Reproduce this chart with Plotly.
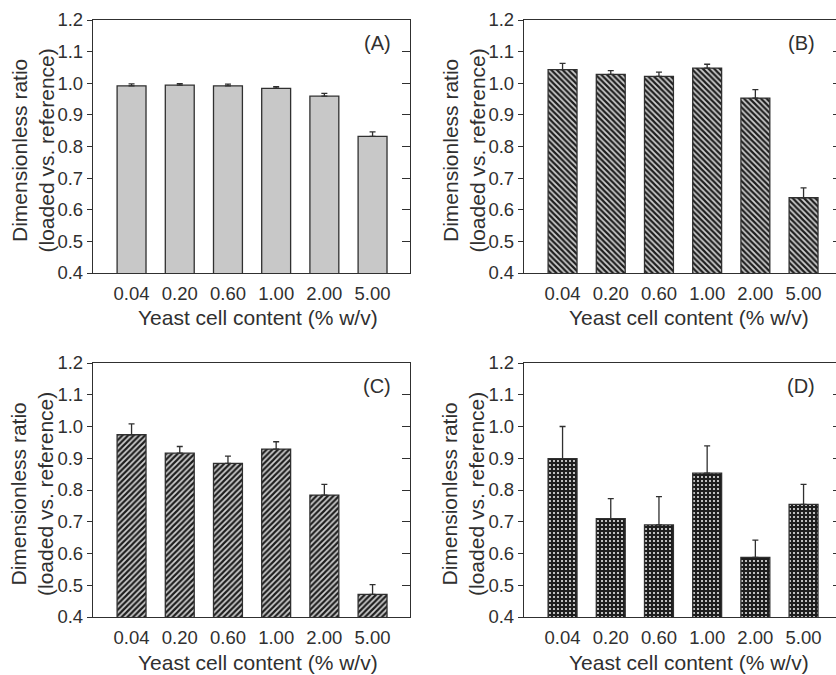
import plotly.graph_objects as go

# ---------------- data ----------------
categories = ["0.04", "0.20", "0.60", "1.00", "2.00", "5.00"]

ratio_A = [0.992, 0.994, 0.992, 0.984, 0.959, 0.832]
err_A = [0.006, 0.005, 0.005, 0.005, 0.009, 0.014]

ratio_B = [1.043, 1.028, 1.022, 1.048, 0.953, 0.638]
err_B = [0.020, 0.012, 0.013, 0.012, 0.027, 0.031]

ratio_C = [0.974, 0.916, 0.884, 0.929, 0.784, 0.471]
err_C = [0.034, 0.021, 0.023, 0.023, 0.034, 0.031]

ratio_D = [0.899, 0.710, 0.690, 0.853, 0.588, 0.755]
err_D = [0.101, 0.063, 0.089, 0.086, 0.054, 0.063]

panel_labels = ["(A)", "(B)", "(C)", "(D)"]
x_title = "Yeast cell content (% w/v)"
y_title = "Dimensionless ratio<br>(loaded vs. reference)"
y_ticks = [0.4, 0.5, 0.6, 0.7, 0.8, 0.9, 1.0, 1.1, 1.2]

# ---------------- layout helpers ----------------
W, H = 836, 675
FONT = "Liberation Sans, Arial, Helvetica, sans-serif"
INK = "#303030"
STEP = 48.2  # px per category


def px_x(v):
    return v / W


def px_y(v):
    return 1 - v / H


panels = [
    dict(x0=93, x1=410, y0=20, y1=273, ratio=ratio_A, err=err_A,
         pattern=None, right_line=True, rlen=8),
    dict(x0=524, x1=836, y0=20, y1=273, ratio=ratio_B, err=err_B,
         pattern=dict(shape="\\", size=4, solidity=0.55, fgcolor="#1e1e1e", bgcolor="#cfcfcf"),
         right_line=False, rlen=3),
    dict(x0=93, x1=410, y0=363, y1=617, ratio=ratio_C, err=err_C,
         pattern=dict(shape="/", size=4, solidity=0.55, fgcolor="#1e1e1e", bgcolor="#cfcfcf"),
         right_line=True, rlen=8),
    dict(x0=524, x1=836, y0=363, y1=617, ratio=ratio_D, err=err_D,
         pattern=dict(shape=".", size=4, solidity=0.22, fgcolor="#e6e6e6", bgcolor="#1e1e1e"),
         right_line=False, rlen=3),
]

fig = go.Figure()
layout = dict(
    template="none",
    width=W, height=H, autosize=False,
    margin=dict(l=0, r=0, t=0, b=0, pad=0, autoexpand=False),
    paper_bgcolor="white", plot_bgcolor="white",
    showlegend=False,
    font=dict(family=FONT, size=18, color=INK),
    annotations=[],
)

for i, p in enumerate(panels):
    n = i + 1
    xa = "x" if n == 1 else f"x{n}"
    ya = "y" if n == 1 else f"y{n}"
    marker = dict(color="#c8c8c8", line=dict(color=INK, width=1.3))
    if p["pattern"] is not None:
        marker["pattern"] = p["pattern"]
    fig.add_trace(go.Bar(
        x=categories, y=p["ratio"], width=0.6, xaxis=xa, yaxis=ya,
        marker=marker,
        error_y=dict(type="data", symmetric=False, array=p["err"],
                     arrayminus=[0] * len(p["err"]), color=INK, thickness=1.3, width=3),
        hoverinfo="x+y",
    ))
    width_px = p["x1"] - p["x0"]
    xr = [-0.8, -0.8 + width_px / STEP]
    layout[f"xaxis{'' if n == 1 else n}"] = dict(
        domain=[px_x(p["x0"]), px_x(p["x1"])], anchor=ya, type="category",
        range=xr, showline=True, linecolor=INK, linewidth=1.3, mirror=True,
        ticks="", showgrid=False, zeroline=False, automargin=False,
        tickfont=dict(size=18.5, color=INK), ticklabelstandoff=4,
    )
    layout[f"yaxis{'' if n == 1 else n}"] = dict(
        domain=[px_y(p["y1"]), px_y(p["y0"])], anchor=xa,
        range=[0.4, 1.2], tickvals=y_ticks, tickformat=".1f",
        showline=True, linecolor=INK, linewidth=1.3, mirror=False,
        ticks="outside", ticklen=5, tickcolor=INK, tickwidth=1.3,
        showgrid=False, zeroline=False, automargin=False,
        tickfont=dict(size=18.5, color=INK),
    )
    # right-side inward ticks
    layout[f"yaxis{n + 4}"] = dict(
        overlaying=ya, anchor=xa, side="right", range=[0.4, 1.2], tickvals=y_ticks,
        showticklabels=False, ticks="inside", ticklen=p["rlen"], tickcolor=INK,
        tickwidth=1.3, showline=p["right_line"], linecolor=INK, linewidth=1.3,
        showgrid=False, zeroline=False, automargin=False,
    )
    # panel label
    layout["annotations"].append(dict(
        text=panel_labels[i], xref="paper", yref="paper",
        x=px_x(p["x0"] + (284 if width_px > 315 else 277)), y=px_y(p["y0"] + 23),
        xanchor="center", yanchor="middle", showarrow=False,
        font=dict(size=20, color=INK, family=FONT),
    ))
    # x title
    layout["annotations"].append(dict(
        text=x_title, xref="paper", yref="paper",
        x=px_x(p["x0"] + 165), y=px_y(p["y1"] + 45),
        xanchor="center", yanchor="middle", showarrow=False,
        font=dict(size=21, color=INK, family=FONT),
    ))
    # y title
    layout["annotations"].append(dict(
        text=y_title, xref="paper", yref="paper", textangle=-90,
        x=px_x(p["x0"] - 61), y=px_y((p["y0"] + p["y1"]) / 2 + 4),
        xanchor="center", yanchor="middle", showarrow=False,
        font=dict(size=21, color=INK, family=FONT),
    ))
    # dummy trace so overlay axis is drawn
    fig.add_trace(go.Scatter(x=[categories[0]], y=[None], xaxis=xa, yaxis=f"y{n + 4}",
                             mode="markers", hoverinfo="skip", showlegend=False))

fig.update_layout(**layout)
fig.write_html(
    "out.html",
    config={"displayModeBar": False},
    post_script="document.body.style.margin='0';document.body.style.overflow='hidden';",
)
